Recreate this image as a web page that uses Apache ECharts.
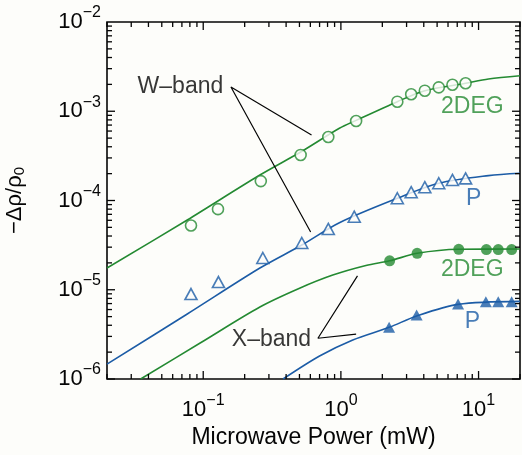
<!DOCTYPE html>
<html>
<head>
<meta charset="utf-8">
<script src="https://cdn.jsdelivr.net/npm/echarts@6/dist/echarts.min.js"></script>
<style>
html,body{margin:0;padding:0;background:#fdfdfa;}
#c{width:522px;height:455px;}
</style>
</head>
<body>
<div id="c"></div>
<script>
// ---- axis ranges and ticks ----
const X_MIN = 0.02, X_MAX = 20;
const Y_MIN = 1e-6, Y_MAX = 1e-2;
const xLabelDecades = [0.1, 1, 10];
const yLabelDecades = [1e-6, 1e-5, 1e-4, 1e-3, 1e-2];
const xTickDecades = [0.01, 0.1, 1, 10];
const yTickDecades = [1e-6, 1e-5, 1e-4, 1e-3];
const tickMultipliers = [1, 2, 3, 4, 5, 6, 7, 8, 9];

// ---- W-band data (open markers) ----
const wDegPower = [0.0815, 0.128, 0.262, 0.51, 0.81, 1.29, 2.57, 3.24, 4.07, 5.14, 6.46, 8.05];
const wDegValue = [5.25e-5, 8.0e-5, 1.65e-4, 3.24e-4, 5.14e-4, 7.78e-4, 1.28e-3, 1.55e-3, 1.70e-3, 1.85e-3, 1.98e-3, 2.06e-3];
const wPPower = [0.0815, 0.129, 0.271, 0.52, 0.81, 1.25, 2.57, 3.24, 4.07, 5.14, 6.46, 8.05];
const wPValue = [8.95e-6, 1.22e-5, 2.27e-5, 3.34e-5, 4.80e-5, 6.59e-5, 1.06e-4, 1.24e-4, 1.41e-4, 1.56e-4, 1.70e-4, 1.77e-4];

// ---- X-band data (filled markers) ----
const xDegPower = [2.26, 3.58, 7.18, 11.4, 13.9, 17.4];
const xDegValue = [2.11e-5, 2.56e-5, 2.84e-5, 2.82e-5, 2.82e-5, 2.82e-5];
const xPPower = [2.24, 3.55, 7.10, 11.3, 13.9, 17.4];
const xPValue = [3.79e-6, 5.21e-6, 6.92e-6, 7.34e-6, 7.34e-6, 7.34e-6];

// ---- fitted curves ----
const wDegFitPower = [0.02, 0.0766, 0.258, 0.51, 0.975, 1.29, 2.57, 4.07, 8.05, 11.8, 20];
const wDegFitValue = [1.75e-5, 6.05e-5, 1.93e-4, 3.49e-4, 6.44e-4, 7.9e-4, 1.28e-3, 1.70e-3, 2.06e-3, 2.30e-3, 2.5e-3];
const wPFitPower = [0.02, 0.0766, 0.258, 0.52, 0.975, 2.57, 5.14, 11.8, 20];
const wPFitValue = [1.47e-6, 5.35e-6, 1.75e-5, 3.17e-5, 5.64e-5, 1.06e-4, 1.56e-4, 1.90e-4, 2.02e-4];
const xDegFitPower = [0.0351, 0.095, 0.258, 0.501, 0.873, 1.52, 2.26, 3.58, 7.18, 20];
const xDegFitValue = [1e-6, 2.53e-6, 6.41e-6, 1.04e-5, 1.46e-5, 1.87e-5, 2.11e-5, 2.56e-5, 2.84e-5, 2.86e-5];
const xPFitPower = [0.38, 0.70, 1.22, 2.24, 3.55, 7.10, 20];
const xPFitValue = [1e-6, 1.81e-6, 2.74e-6, 3.79e-6, 5.08e-6, 6.85e-6, 7.4e-6];

// ---- annotations ----
const wBandLinePower = [0.612, 0.159, 0.603];
const wBandLineValue = [5.42e-4, 1.87e-3, 4.44e-5];
const xBandLinePower = [1.32, 0.681, 1.29];
const xBandLineValue = [1.43e-5, 2.86e-6, 3.19e-6];
const noteTexts = ['W\u2013band', 'X\u2013band'];
const notePower = [0.0683, 0.313];
const noteValue = [1.87e-3, 2.73e-6];
const seriesTexts = ['2DEG', 'P', '2DEG', 'P'];
const seriesTextPower = [9.02, 9.2, 9.0, 9.02];
const seriesTextValue = [1.13e-3, 1.06e-4, 1.66e-5, 4.36e-6];

const GREEN = '#248a32';
const BLUE = '#1c5ca6';
const INK = '#050505';
const FONT = '"Liberation Sans", Arial, Helvetica, sans-serif';
const seriesTextColors = [GREEN, BLUE, GREEN, BLUE];

const zip = (a, b) => a.map((v, i) => [v, b[i]]);

function decadeFormatter(list) {
  return function (v) {
    const e = Math.log10(v);
    const r = Math.round(e);
    if (Math.abs(e - r) > 1e-6) return '';
    if (!list.some(d => Math.round(Math.log10(d)) === r)) return '';
    return '{b|10}{s|' + (r < 0 ? '\u2212' : '') + Math.abs(r) + '}';
  };
}
const tickRich = {
  b: { fontSize: 22, fontFamily: FONT, color: INK },
  s: { fontSize: 16, fontFamily: FONT, color: INK, padding: [0, 0, 18, 0] }
};

const fitLine = (p, v, color) => ({
  type: 'line', data: zip(p, v), smooth: 0.3, showSymbol: false, symbol: 'none',
  lineStyle: { color, width: 1.6 }, z: 2, silent: true, animation: false
});
const markers = (p, v, symbol, size, color, filled) => ({
  type: 'scatter', data: zip(p, v), symbol, symbolSize: size,
  itemStyle: filled ? { color } : { color: '#fdfdfa', borderColor: color, borderWidth: 1.6 },
  z: 4, silent: true, animation: false
});
const connector = (p, v) => ({
  type: 'line', data: zip(p, v), showSymbol: false, symbol: 'none',
  lineStyle: { color: INK, width: 1.2 }, z: 3, silent: true, animation: false
});

const chart = echarts.init(document.getElementById('c'));
chart.setOption({
  animation: false,
  backgroundColor: '#fdfdfa',
  grid: {
    left: 107, top: 22, right: 2, bottom: 76, containLabel: false, outerBoundsMode: 'none',
    show: true, borderColor: INK, borderWidth: 1.6, backgroundColor: 'transparent'
  },
  xAxis: {
    type: 'log', logBase: 10, min: X_MIN, max: X_MAX,
    axisLine: { show: false }, axisTick: { show: false }, splitLine: { show: false }, minorTick: { show: false },
    axisLabel: { formatter: decadeFormatter(xLabelDecades), rich: tickRich, margin: 14, showMinLabel: true, showMaxLabel: true },
    name: 'Microwave Power (mW)', nameLocation: 'middle', nameGap: 44,
    nameTextStyle: { fontSize: 23, fontFamily: FONT, color: INK }
  },
  yAxis: {
    type: 'log', logBase: 10, min: Y_MIN, max: Y_MAX,
    axisLine: { show: false }, axisTick: { show: false }, splitLine: { show: false }, minorTick: { show: false },
    axisLabel: { formatter: decadeFormatter(yLabelDecades), rich: tickRich, margin: 6 },
    name: '{m|\u2212\u0394\u03c1/\u03c1}{sub|0}', nameLocation: 'middle', nameGap: 80,
    nameTextStyle: {
      rich: {
        m: { fontSize: 22, fontFamily: FONT, color: INK },
        sub: { fontSize: 15, fontFamily: FONT, color: INK, padding: [10, 0, 0, 0] }
      }
    }
  },
  series: [
    fitLine(wDegFitPower, wDegFitValue, GREEN),
    fitLine(wPFitPower, wPFitValue, BLUE),
    fitLine(xDegFitPower, xDegFitValue, GREEN),
    fitLine(xPFitPower, xPFitValue, BLUE),
    markers(wDegPower, wDegValue, 'circle', 11, GREEN, false),
    markers(wPPower, wPValue, 'triangle', [12, 11], BLUE, false),
    markers(xDegPower, xDegValue, 'circle', 11, GREEN, true),
    markers(xPPower, xPValue, 'triangle', [12, 11], BLUE, true),
    connector(wBandLinePower, wBandLineValue),
    connector(xBandLinePower, xBandLineValue),
    {
      type: 'scatter', symbolSize: 0, silent: true, z: 5,
      data: noteTexts.map((t, i) => ({ value: [notePower[i], noteValue[i]], name: t })),
      itemStyle: { color: 'transparent' },
      label: { show: true, position: 'inside', formatter: p => p.name, fontSize: 23, fontFamily: FONT, color: INK }
    },
    {
      type: 'scatter', symbolSize: 0, silent: true, z: 5,
      data: seriesTexts.map((t, i) => ({
        value: [seriesTextPower[i], seriesTextValue[i]], name: t,
        label: { color: seriesTextColors[i] }
      })),
      itemStyle: { color: 'transparent' },
      label: { show: true, position: 'inside', formatter: p => p.name, fontSize: 23, fontFamily: FONT }
    }
  ]
});

// ---- inward major/minor ticks on all four sides, positioned by the axes' own scales ----
(function drawTicks() {
  const px = (x, y) => chart.convertToPixel({ xAxisIndex: 0, yAxisIndex: 0 }, [x, y]);
  const bl = px(X_MIN, Y_MIN), tr = px(X_MAX, Y_MAX);
  const left = bl[0], bottom = bl[1], right = tr[0], top = tr[1];
  const els = [];
  const seg = (x1, y1, x2, y2) => els.push({
    type: 'line', silent: true, z: 100,
    shape: { x1, y1, x2, y2 }, style: { stroke: INK, lineWidth: 1.3 }
  });
  xTickDecades.forEach(d => tickMultipliers.forEach(m => {
    const v = d * m;
    if (v < X_MIN * 0.999 || v > X_MAX * 1.001) return;
    const len = m === 1 ? 8 : 5;
    const x = px(v, Y_MIN)[0];
    seg(x, bottom, x, bottom - len);
    seg(x, top, x, top + len);
  }));
  yTickDecades.forEach(d => tickMultipliers.forEach(m => {
    const v = d * m;
    if (v < Y_MIN * 0.999 || v > Y_MAX * 1.001) return;
    const len = m === 1 ? 8 : 5;
    const y = px(X_MIN, v)[1];
    seg(left, y, left + len, y);
    seg(right, y, right - len, y);
  }));
  chart.setOption({ graphic: { elements: els } });
})();
</script>
</body>
</html>
